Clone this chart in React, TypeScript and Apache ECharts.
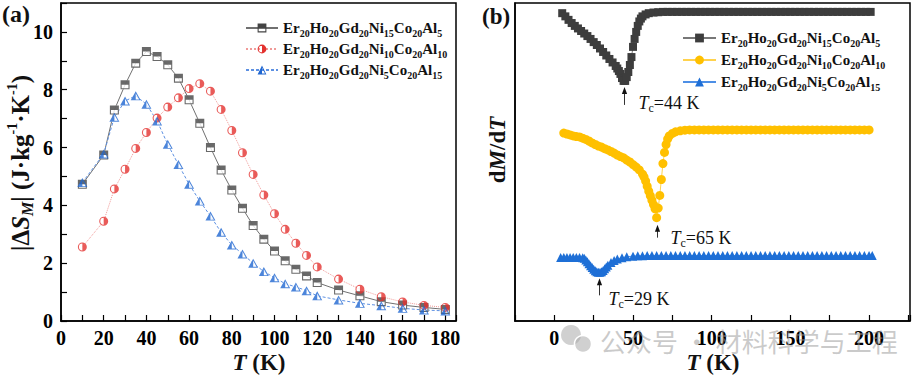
import React, { useEffect, useRef } from 'react';
import * as echarts from 'echarts';

const SERIF = '"Liberation Serif", "Times New Roman", "DejaVu Serif", serif';

// ---------- Panel (a): |ΔS_M| vs T ----------
const tempsA = [10, 20, 25, 30, 35, 40, 45, 50, 55, 60, 65, 70, 75, 80, 85, 90, 95, 100, 105, 110, 115, 120, 130, 140, 150, 160, 170, 180];
const entropySq = [4.73, 5.74, 7.30, 8.17, 8.92, 9.32, 9.15, 8.86, 8.40, 7.65, 6.84, 6.00, 5.22, 4.53, 3.90, 3.30, 2.83, 2.42, 2.08, 1.79, 1.56, 1.33, 1.07, 0.87, 0.67, 0.55, 0.47, 0.40];
const entropyCi = [2.56, 3.45, 4.57, 5.25, 5.97, 6.52, 7.02, 7.40, 7.72, 8.04, 8.21, 7.95, 7.32, 6.59, 5.82, 5.07, 4.36, 3.71, 3.17, 2.69, 2.27, 1.87, 1.45, 1.10, 0.84, 0.66, 0.54, 0.47];
const entropyTr = [4.79, 5.78, 7.05, 7.61, 7.79, 7.50, 6.92, 6.11, 5.41, 4.73, 4.15, 3.63, 3.07, 2.63, 2.32, 2.00, 1.71, 1.50, 1.29, 1.18, 1.05, 0.87, 0.73, 0.61, 0.53, 0.44, 0.38, 0.35];
const xLabelsA = [0, 20, 40, 60, 80, 100, 120, 140, 160, 180];
const yLabelsA = [0, 2, 4, 6, 8, 10];

// ---------- Panel (b): dM/dT (arbitrary, offset) vs T ----------
const dmdtSq: [number, number][] = [
  [5, 96.8], [7, 95.8], [9, 94.7], [11, 93.7], [13, 92.8], [15, 92.0], [17, 91.2], [19, 90.4], [21, 89.6], [23, 88.7],
  [25, 87.7], [27, 86.8], [29, 85.7], [31, 84.6], [33, 83.5], [35, 82.4], [37, 81.3], [39, 80.2], [40, 79.4], [41, 78.6],
  [42, 77.7], [43, 76.4], [44, 75.5], [45, 75.5], [46, 76.7], [47, 78.3], [48, 80.5], [49, 83.0], [50, 86.2], [51, 88.7],
  [52, 90.9], [53, 92.8], [54, 94.2], [55, 95.1], [56, 95.8], [58, 96.4], [60, 96.8], [63, 97.0], [66, 97.1], [69, 97.2],
  [72, 97.2], [75, 97.2], [78, 97.2], [81, 97.2], [84, 97.2], [87, 97.2], [90, 97.2], [93, 97.2], [96, 97.2], [99, 97.2],
  [102, 97.2], [105, 97.2], [108, 97.2], [111, 97.2], [114, 97.2], [117, 97.2], [120, 97.2], [123, 97.2], [126, 97.2], [129, 97.2],
  [132, 97.2], [135, 97.2], [138, 97.2], [141, 97.2], [144, 97.2], [147, 97.2], [150, 97.2], [153, 97.2], [156, 97.2], [159, 97.2],
  [162, 97.2], [165, 97.2], [168, 97.2], [171, 97.2], [174, 97.2], [177, 97.2], [180, 97.2], [183, 97.2], [186, 97.2], [189, 97.2],
  [192, 97.2], [195, 97.2], [198, 97.2], [201, 97.2],
];
const dmdtCi: [number, number][] = [
  [6, 59.1], [8, 58.8], [10, 58.5], [12, 58.2], [14, 58.0], [16, 57.9], [18, 57.5], [20, 57.1], [22, 56.6], [24, 56.0],
  [26, 55.5], [28, 55.0], [30, 54.7], [32, 54.2], [34, 53.8], [36, 53.3], [38, 52.8], [40, 52.2], [42, 51.7], [44, 51.3],
  [46, 50.6], [48, 50.0], [50, 49.2], [52, 48.4], [54, 47.5], [56, 46.2], [57, 45.3], [58, 44.0], [59, 42.4], [60, 40.8],
  [61, 39.4], [62, 38.0], [63, 36.6], [64, 35.3], [65, 32.5], [66, 35.5], [67, 39.5], [68, 44.5], [69, 49.5], [70, 53.0],
  [71, 55.5], [72, 57.2], [73, 58.2], [75, 59.0], [77, 59.5], [80, 59.8], [83, 60.0], [86, 60.1], [89, 60.1], [92, 60.1],
  [95, 60.1], [98, 60.1], [101, 60.1], [104, 60.1], [107, 60.1], [110, 60.1], [113, 60.1], [116, 60.1], [119, 60.1], [122, 60.1],
  [125, 60.1], [128, 60.1], [131, 60.1], [134, 60.1], [137, 60.1], [140, 60.1], [143, 60.1], [146, 60.1], [149, 60.1], [152, 60.1],
  [155, 60.1], [158, 60.1], [161, 60.1], [164, 60.1], [167, 60.1], [170, 60.1], [173, 60.1], [176, 60.1], [179, 60.1], [182, 60.1],
  [185, 60.1], [188, 60.1], [191, 60.1], [194, 60.1], [197, 60.1], [200, 60.1],
];
const dmdtTr: [number, number][] = [
  [4, 20.0], [6, 20.0], [8, 20.0], [10, 20.0], [12, 20.0], [14, 20.0], [16, 20.0], [18, 19.9], [19, 19.7], [20, 19.2],
  [21, 18.6], [22, 18.0], [23, 17.4], [24, 16.8], [25, 16.3], [26, 15.8], [27, 15.5], [28, 15.3], [29, 15.3], [30, 15.5],
  [31, 15.9], [32, 16.4], [33, 17.0], [34, 17.5], [36, 18.4], [38, 19.0], [40, 19.5], [43, 19.9], [46, 20.2], [50, 20.4],
  [53, 20.5], [56, 20.5], [59, 20.6], [62, 20.6], [65, 20.6], [68, 20.6], [71, 20.6], [74, 20.6], [77, 20.6], [80, 20.6],
  [83, 20.6], [86, 20.6], [89, 20.6], [92, 20.6], [95, 20.6], [98, 20.6], [101, 20.6], [104, 20.6], [107, 20.6], [110, 20.6],
  [113, 20.6], [116, 20.6], [119, 20.6], [122, 20.6], [125, 20.6], [128, 20.6], [131, 20.6], [134, 20.6], [137, 20.6], [140, 20.6],
  [143, 20.6], [146, 20.6], [149, 20.6], [152, 20.6], [155, 20.6], [158, 20.6], [161, 20.6], [164, 20.6], [167, 20.6], [170, 20.6],
  [173, 20.6], [176, 20.6], [179, 20.6], [182, 20.6], [185, 20.6], [188, 20.6], [191, 20.6], [194, 20.6], [197, 20.6], [200, 20.6],
  [202, 20.6],
];
const xLabelsB = [0, 50, 100, 150, 200];

// Curie temperature annotations: [Tc, marker value at the dip]
const tcNotes = [
  { tc: 44, x: 44.2, v: 75.5, tip: 6, tail: 24, dx: 14, dy: 22 },
  { tc: 65, x: 65, v: 32.5, tip: 7, tail: 20, dx: 13, dy: 20 },
  { tc: 29, x: 28.4, v: 15.3, tip: 6, tail: 23, dx: 9, dy: 27 },
];

const alloyNames = ['Er20Ho20Gd20Ni15Co20Al5', 'Er20Ho20Gd20Ni10Co20Al10', 'Er20Ho20Gd20Ni5Co20Al15'];

// half-filled marker outlines (frame + half fill) and helpers
const SQ_HALF = 'path://M0 0L10 0L10 10L0 10Z M1.2 1.2L1.2 8.8L8.8 8.8L8.8 1.2Z M1 1L9 1L9 5L1 5Z';
const CI_HALF = 'path://M0 5A5 5 0 1 1 10 5A5 5 0 1 1 0 5Z M1.2 5A3.8 3.8 0 1 0 8.8 5A3.8 3.8 0 1 0 1.2 5Z M5 1A4 4 0 0 1 5 9Z';
const TR_HALF = 'path://M5 0L10 10L0 10Z M5 2.4L1.6 9L8.4 9Z M5 0L5 10L0 10Z';

const tok = (size: number, italic = false, bold = true, va?: string, lh?: number) => {
  const t: any = {
    fontFamily: SERIF, fontSize: size, fontWeight: bold ? 'bold' : 'normal',
    fontStyle: italic ? 'italic' : 'normal', fill: '#111',
  };
  if (va) t.verticalAlign = va;
  if (lh) t.lineHeight = lh;
  return t;
};

const legendFormatter = (name: string) =>
  name.replace(/^[ab]:/, '').replace(/(\d+)/g, '{s|$1}');

const legendText = {
  fontFamily: SERIF, fontWeight: 'bold', fontSize: 15, lineHeight: 20, color: '#111',
  rich: {
    s: { fontFamily: SERIF, fontWeight: 'bold', fontSize: 10, lineHeight: 9, verticalAlign: 'bottom', color: '#111' },
  },
};

const labelFont = { fontFamily: SERIF, fontWeight: 'bold', fontSize: 20, color: '#000' };

export default function App() {
  const ref = useRef<HTMLDivElement>(null);

  useEffect(() => {
    if (!ref.current) return;
    const chart = echarts.init(ref.current, undefined, { renderer: 'svg' });

    const pairsA = (vals: number[]) => tempsA.map((t, i) => [t, vals[i]]);
    const specsA = [
      { name: 'a:' + alloyNames[0], vals: entropySq, base: 'rect', half: SQ_HALF, size: [9, 9], color: '#434343',
        line: { color: '#707070', width: 1, type: 'solid' } },
      { name: 'a:' + alloyNames[1], vals: entropyCi, base: 'circle', half: CI_HALF, size: [9, 9], color: '#e3322f',
        line: { color: '#f09a98', width: 1, type: 'dotted' } },
      { name: 'a:' + alloyNames[2], vals: entropyTr, base: 'triangle', half: TR_HALF, size: [10, 9], color: '#1f66d1',
        line: { color: '#5d90e2', width: 1, type: [3, 2] } },
    ];

    const seriesA: any[] = [];
    specsA.forEach((s, k) => {
      const data = pairsA(s.vals);
      seriesA.push({
        name: s.name, type: 'line', xAxisIndex: 0, yAxisIndex: 0, data,
        showSymbol: false, symbol: s.half, symbolSize: s.size,
        itemStyle: { color: s.color }, lineStyle: s.line, z: 2, silent: true,
      });
      seriesA.push({
        name: 'bgA' + k, type: 'scatter', xAxisIndex: 0, yAxisIndex: 0, data,
        symbol: s.base, symbolSize: s.size, itemStyle: { color: '#ffffff' }, z: 3, silent: true,
      });
      seriesA.push({
        name: 'fgA' + k, type: 'scatter', xAxisIndex: 0, yAxisIndex: 0, data,
        symbol: s.half, symbolSize: s.size, itemStyle: { color: s.color }, z: 4, silent: true,
      });
    });

    const specsB = [
      { name: 'b:' + alloyNames[0], data: dmdtSq, symbol: 'rect', size: 8, color: '#3d3d3d', lineColor: '#777777' },
      { name: 'b:' + alloyNames[1], data: dmdtCi, symbol: 'circle', size: 9, color: '#ffc000', lineColor: '#ffd24d' },
      { name: 'b:' + alloyNames[2], data: dmdtTr, symbol: 'triangle', size: 9, color: '#1e6fd6', lineColor: '#4d8fe6' },
    ];
    const seriesB = specsB.map((s) => ({
      name: s.name, type: 'line', xAxisIndex: 1, yAxisIndex: 1, data: s.data,
      symbol: s.symbol, symbolSize: s.size, showSymbol: true, showAllSymbol: true,
      itemStyle: { color: s.color }, lineStyle: { color: s.lineColor, width: 1 }, z: 3, silent: true,
    }));

    const axisLineStyle = { show: true, onZero: false, lineStyle: { color: '#000', width: 1.5 } };
    const tickStyle = { show: true, inside: true, length: 6, lineStyle: { color: '#000', width: 1.2 } };

    chart.setOption({
      animation: false,
      backgroundColor: '#ffffff',
      grid: [
        { left: 61, top: 3, width: 395, height: 318, show: true, borderColor: '#000', borderWidth: 1.5, backgroundColor: 'transparent' },
        { left: 515, top: 3, width: 396, height: 318, show: true, borderColor: '#000', borderWidth: 1.5, backgroundColor: 'transparent' },
      ],
      xAxis: [
        {
          type: 'value', gridIndex: 0, min: 0, max: 185, interval: 10,
          axisLine: axisLineStyle, axisTick: tickStyle, splitLine: { show: false },
          axisLabel: { ...labelFont, margin: 7, showMinLabel: true, showMaxLabel: true,
            formatter: (v: number) => (xLabelsA.includes(v) ? String(v) : '') },
        },
        {
          type: 'value', gridIndex: 1, min: -25, max: 226, interval: 25,
          axisLine: axisLineStyle, axisTick: tickStyle, splitLine: { show: false },
          axisLabel: { ...labelFont, margin: 7, showMinLabel: true, showMaxLabel: true,
            formatter: (v: number) => (xLabelsB.includes(v) ? String(v) : '') },
        },
      ],
      yAxis: [
        {
          type: 'value', gridIndex: 0, min: 0, max: 11, interval: 1,
          axisLine: axisLineStyle, axisTick: tickStyle, splitLine: { show: false },
          axisLabel: { ...labelFont, margin: 8, showMinLabel: true, showMaxLabel: true,
            formatter: (v: number) => (yLabelsA.includes(v) ? String(v) : '') },
        },
        {
          type: 'value', gridIndex: 1, min: 0, max: 100,
          axisLine: axisLineStyle, axisTick: { show: false }, axisLabel: { show: false }, splitLine: { show: false },
        },
      ],
      legend: [
        {
          data: specsA.map((s) => s.name), orient: 'vertical', left: 240, top: 13,
          itemWidth: 32, itemHeight: 11, itemGap: 1, formatter: legendFormatter,
          textStyle: legendText, selectedMode: false,
        },
        {
          data: specsB.map((s) => s.name), orient: 'vertical', left: 677, top: 23,
          itemWidth: 33, itemHeight: 11, itemGap: 2, formatter: legendFormatter,
          textStyle: legendText, selectedMode: false,
        },
      ],
      series: [...seriesA, ...seriesB],
    });

    // annotations
    const graphics: any[] = [];
    const addText = (x: number, y: number, text: string, size: number, rich: any, opts: any = {}) => {
      graphics.push({
        type: 'text', x, y, rotation: opts.rotation || 0, z: 50,
        style: {
          text, fontFamily: SERIF, fontSize: size, fontWeight: opts.bold === false ? 'normal' : 'bold',
          fill: '#111', align: opts.align || 'center', verticalAlign: 'middle',
          lineHeight: opts.lineHeight || size + 4, rich,
        },
      });
    };

    addText(2, 14, '(a)', 24, {}, { align: 'left' });
    addText(482, 16, '(b)', 23, {}, { align: 'left' });
    addText(259, 362, '{it|T} (K)', 23, { it: tok(23, true, true, undefined, 27) });
    addText(713, 362, '{it|T} (K)', 23, { it: tok(23, true, true, undefined, 27) });
    addText(20, 163, '|Δ{it|S}{sub|M}| (J·kg{sup|-1}·K{sup|-1})', 25, {
      it: tok(25, true, true, undefined, 30),
      sub: tok(16, true, true, 'bottom', 16),
      sup: tok(14, false, true, 'top', 18),
    }, { rotation: Math.PI / 2, lineHeight: 30 });
    addText(497, 150, 'd{it|M}/d{it|T}', 23, { it: tok(23, true, true, undefined, 27) }, { rotation: Math.PI / 2 });

    tcNotes.forEach((n) => {
      const p = chart.convertToPixel({ xAxisIndex: 1, yAxisIndex: 1 } as any, [n.x, n.v]) as number[];
      const x = Math.round(p[0]) + 0.5;
      const y0 = p[1] + n.tip;
      const y1 = p[1] + n.tail;
      graphics.push({ type: 'line', z: 50, shape: { x1: x, y1: y0 + 5, x2: x, y2: y1 }, style: { stroke: '#333', lineWidth: 1 } });
      graphics.push({ type: 'polygon', z: 50, shape: { points: [[x, y0], [x - 2.6, y0 + 7], [x + 2.6, y0 + 7]] }, style: { fill: '#111' } });
      addText(x + n.dx, p[1] + n.dy, '{it|T}{sub|c}=' + n.tc + ' K', 18, {
        it: tok(18, true, false, undefined, 22),
        sub: tok(12, false, false, 'bottom', 12),
      }, { align: 'left', bold: false, lineHeight: 22 });
    });

    // watermark
    graphics.push({ type: 'circle', z: 60, shape: { cx: 571, cy: 335, r: 10 }, style: { fill: 'rgba(170,170,170,0.55)' } });
    graphics.push({ type: 'circle', z: 60, shape: { cx: 583, cy: 344, r: 8.5 }, style: { fill: 'rgba(170,170,170,0.55)', stroke: '#fff', lineWidth: 1.5 } });
    graphics.push({
      type: 'text', z: 60, x: 600, y: 340,
      style: { text: '公众号 · 材料科学与工程', fontFamily: '"Noto Sans CJK SC", sans-serif', fontSize: 26,
        fill: 'rgba(150,150,150,0.5)', align: 'left', verticalAlign: 'middle' },
    });

    chart.setOption({ graphic: graphics });

    return () => chart.dispose();
  }, []);

  return <div ref={ref} style={{ position: 'absolute', left: 0, top: 0, width: 913, height: 377 }} />;
}
